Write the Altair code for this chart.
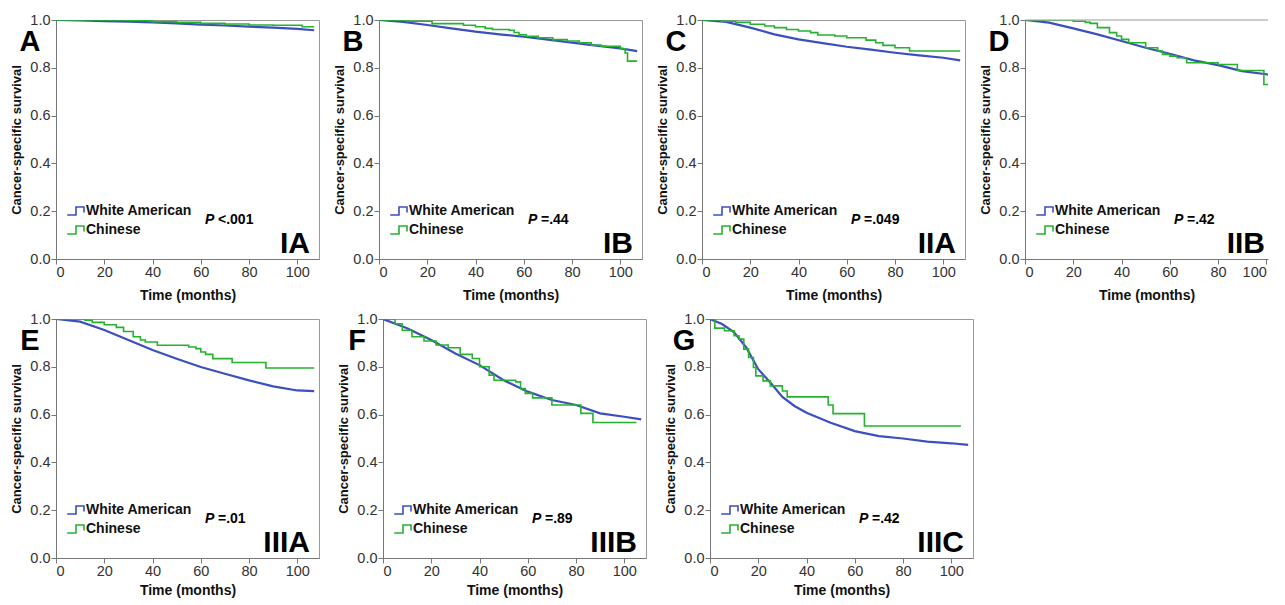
import altair as alt
import pandas as pd

BLUE = "#3B4FBF"
GREEN = "#25B22F"
FONT = "Liberation Sans"

# ---- data ----
A_wa_t = [0, 10, 20, 30, 40, 50, 60, 70, 80, 90, 100, 107]
A_wa_s = [1.0, 0.998, 0.995, 0.993, 0.99, 0.986, 0.981, 0.977, 0.972, 0.968, 0.963, 0.957]
A_cn_t = [0, 30, 40, 50, 60, 70, 80, 90, 102, 107]
A_cn_s = [1.0, 0.998, 0.993, 0.99, 0.986, 0.983, 0.979, 0.978, 0.972, 0.972]

B_wa_t = [0, 10, 20, 30, 40, 50, 60, 70, 80, 90, 100, 107]
B_wa_s = [1.0, 0.992, 0.979, 0.965, 0.951, 0.94, 0.93, 0.918, 0.905, 0.893, 0.881, 0.870]
B_cn_t = [0, 12, 22, 35, 40, 44, 47, 54, 56, 58, 61, 66, 72, 78, 83, 88, 92, 100, 102, 103, 107]
B_cn_s = [1.0, 0.995, 0.985, 0.978, 0.972, 0.965, 0.960, 0.957, 0.948, 0.938, 0.932, 0.926, 0.918,
          0.912, 0.905, 0.895, 0.89, 0.88, 0.862, 0.828, 0.828]

C_wa_t = [0, 10, 20, 30, 40, 50, 60, 70, 80, 90, 100, 107]
C_wa_s = [1.0, 0.992, 0.968, 0.94, 0.919, 0.903, 0.888, 0.876, 0.863, 0.852, 0.842, 0.831]
C_cn_t = [0, 8, 14, 20, 26, 30, 35, 40, 45, 48, 55, 60, 68, 72, 75, 80, 86, 107]
C_cn_s = [1.0, 0.995, 0.99, 0.982, 0.975, 0.968, 0.96, 0.954, 0.947, 0.937, 0.933, 0.926, 0.916,
          0.905, 0.894, 0.884, 0.870, 0.870]

D_wa_t = [0, 10, 20, 30, 40, 50, 60, 70, 80, 90, 100, 107]
D_wa_s = [1.0, 0.989, 0.965, 0.94, 0.912, 0.884, 0.859, 0.831, 0.811, 0.786, 0.773, 0.758]
D_cn_t = [0, 20, 25, 27, 30, 35, 38, 40, 43, 50, 55, 57, 60, 63, 67, 80, 88, 99, 107]
D_cn_s = [1.0, 0.995, 0.99, 0.986, 0.968, 0.947, 0.933, 0.919, 0.905, 0.884, 0.870, 0.856, 0.849,
          0.842, 0.821, 0.814, 0.789, 0.730, 0.730]

E_wa_t = [0, 10, 20, 30, 40, 50, 60, 70, 80, 90, 100, 107]
E_wa_s = [1.0, 0.989, 0.954, 0.912, 0.870, 0.834, 0.799, 0.771, 0.743, 0.718, 0.701, 0.698]
E_cn_t = [0, 12, 15, 20, 25, 28, 32, 35, 37, 42, 55, 58, 60, 62, 65, 73, 87, 107]
E_cn_s = [1.0, 0.995, 0.986, 0.976, 0.965, 0.948, 0.926, 0.912, 0.904, 0.89, 0.883, 0.876, 0.862,
          0.852, 0.834, 0.818, 0.795, 0.795]

F_wa_t = [0, 10, 20, 30, 40, 50, 60, 70, 80, 90, 100, 107]
F_wa_s = [1.0, 0.961, 0.912, 0.856, 0.807, 0.744, 0.696, 0.661, 0.640, 0.605, 0.591, 0.580]
F_cn_t = [0, 5, 8, 12, 17, 22, 27, 32, 37, 40, 44, 46, 55, 57, 59, 62, 70, 82, 87, 105]
F_cn_s = [1.0, 0.98, 0.953, 0.926, 0.908, 0.891, 0.880, 0.852, 0.835, 0.80, 0.765, 0.744, 0.737,
          0.709, 0.689, 0.670, 0.640, 0.605, 0.567, 0.567]

G_wa_t = [0, 5, 10, 15, 20, 25, 30, 35, 40, 50, 60, 70, 80, 90, 100, 107]
G_wa_s = [1.0, 0.979, 0.944, 0.881, 0.790, 0.734, 0.674, 0.636, 0.608, 0.566, 0.531, 0.510, 0.500,
          0.487, 0.480, 0.473]
G_cn_t = [0, 2, 6, 10, 12, 14, 16, 18, 19, 22, 25, 30, 32, 49, 51, 64, 104]
G_cn_s = [1.0, 0.962, 0.951, 0.93, 0.916, 0.874, 0.839, 0.797, 0.762, 0.741, 0.72, 0.699, 0.674,
          0.640, 0.604, 0.552, 0.552]

letters = ["A", "B", "C", "D", "E", "F", "G"]
stages = ["IA", "IB", "IIA", "IIB", "IIIA", "IIIB", "IIIC"]
pvalues = ["<.001", "=.44", "=.049", "=.42", "=.01", "=.89", "=.42"]
groups = ["White American", "Chinese"]
x_ticks = [0, 20, 40, 60, 80, 100]
y_ticks = [0.0, 0.2, 0.4, 0.6, 0.8, 1.0]

series = {
    "A": (A_wa_t, A_wa_s, A_cn_t, A_cn_s),
    "B": (B_wa_t, B_wa_s, B_cn_t, B_cn_s),
    "C": (C_wa_t, C_wa_s, C_cn_t, C_cn_s),
    "D": (D_wa_t, D_wa_s, D_cn_t, D_cn_s),
    "E": (E_wa_t, E_wa_s, E_cn_t, E_cn_s),
    "F": (F_wa_t, F_wa_s, F_cn_t, F_cn_s),
    "G": (G_wa_t, G_wa_s, G_cn_t, G_cn_s),
}

W, H = 263, 239
XMAX = 109
PX_PER_MONTH = W / XMAX
WD = 243  # last panel of the top row is cut by the picture's right edge
STEP_SYMBOL = "M-1.1,0.5H0V-0.5H1V0.2"


def panel(i, width=W, cut=False, title_pad=10):
    key = letters[i]
    wt, ws, ct, cs = series[key]
    df_w = pd.DataFrame({"t": wt, "s": ws, "g": groups[0]})
    df_c = pd.DataFrame({"t": ct, "s": cs, "g": groups[1]})
    xmax = width / PX_PER_MONTH

    if cut:
        xaxis = alt.Axis(values=x_ticks, title="Time (months)", labelFlush=20, titlePadding=title_pad)
    else:
        xaxis = alt.Axis(values=x_ticks, title="Time (months)", titlePadding=title_pad)
    x = alt.X("t:Q", scale=alt.Scale(domain=[0, xmax], nice=False), axis=xaxis)
    y = alt.Y("s:Q", scale=alt.Scale(domain=[0, 1], nice=False),
              axis=alt.Axis(values=y_ticks, format=".1f", title="Cancer-specific survival"))
    color = alt.Color("g:N", scale=alt.Scale(domain=groups, range=[BLUE, GREEN]),
                      legend=alt.Legend(orient="none", legendX=11, legendY=182, title=None,
                                        symbolType=STEP_SYMBOL, symbolSize=256,
                                        symbolStrokeWidth=1.6, symbolFillColor="transparent",
                                        labelFontSize=14, labelFontWeight="bold",
                                        labelColor="#111", labelFont=FONT,
                                        labelOffset=1, rowPadding=2, padding=0))

    blue = alt.Chart(df_w).mark_line(strokeWidth=2.2, interpolate="linear", clip=True).encode(
        x=x, y=y, color=color)
    green = alt.Chart(df_c).mark_line(strokeWidth=1.6, interpolate="step-after", clip=True).encode(
        x=x, y=y, color=color)

    ann = pd.DataFrame({"letter": [key], "stage": [stages[i]], "p": ["P"], "pv": [pvalues[i]]})
    base = alt.Chart(ann)
    t_letter = base.mark_text(font=FONT, fontSize=29, fontWeight="bold", color="#000",
                              align="center", baseline="middle").encode(
        x=alt.value(-26), y=alt.value(22), text="letter:N")
    t_stage = base.mark_text(font=FONT, fontSize=30, fontWeight="bold", color="#000",
                             align="right", baseline="alphabetic").encode(
        x=alt.value(width - 3 if cut else width - 9), y=alt.value(H - 6), text="stage:N")
    t_p = base.mark_text(font=FONT, fontSize=14, fontWeight="bold", fontStyle="italic",
                         color="#000", align="left", baseline="middle").encode(
        x=alt.value(149), y=alt.value(200), text="p:N")
    t_pv = base.mark_text(font=FONT, fontSize=14, fontWeight="bold", color="#000",
                          align="left", baseline="middle").encode(
        x=alt.value(162), y=alt.value(200), text="pv:N")

    layers = [blue, green, t_letter, t_stage, t_p, t_pv]
    if cut:
        top = base.mark_rule(color="#9a9a9a", strokeWidth=1).encode(
            x=alt.value(0), x2=alt.value(width), y=alt.value(0))
        layers.append(top)
        return alt.layer(*layers).properties(width=width, height=H,
                                             view=alt.ViewBackground(stroke="transparent"))
    return alt.layer(*layers).properties(width=width, height=H)


row1 = alt.hconcat(panel(0), panel(1), panel(2), panel(3, width=WD, cut=True),
                   spacing=13).resolve_scale(color="independent").resolve_legend(color="independent")
row2 = alt.hconcat(*[panel(i, title_pad=6) for i in range(4, 7)], spacing=17).resolve_scale(
    color="independent").resolve_legend(color="independent")

chart = alt.vconcat(row1, row2, spacing=7).resolve_scale(color="independent").resolve_legend(
    color="independent"
).properties(padding={"left": 2, "top": 3, "right": 0, "bottom": 0}).configure(font=FONT).configure_view(
    stroke="#9a9a9a", strokeWidth=1).configure_axis(
    grid=False, labelFont=FONT, titleFont=FONT, labelFontSize=14.5, labelColor="#333",
    titleFontSize=13, titleFontWeight="bold", titleColor="#111", tickSize=5,
    tickColor="#777", domainColor="#777", labelPadding=1
).configure_axisX(titleFontSize=14).configure_axisY(titlePadding=6)

chart.save("out.html", embed_options={"renderer": "svg", "actions": False})
